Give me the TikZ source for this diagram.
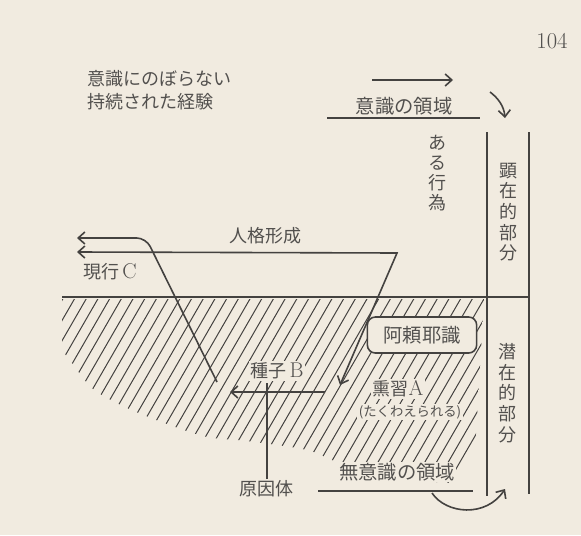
\documentclass[tikz,border=0pt]{standalone}
\usepackage{fontspec}
\newfontfamily\jp{Noto Sans CJK JP}
\newfontfamily\lat{Latin Modern Roman}
\usetikzlibrary{arrows.meta}
\definecolor{paper}{RGB}{241,235,224}
\definecolor{ink}{RGB}{68,66,64}
\definecolor{txt}{RGB}{82,80,78}
\tikzset{
  ln/.style={draw=ink, line width=1.2pt},
  hatchln/.style={draw=ink, line width=0.75pt},
  arr/.style={ln, -{Straight Barb[length=5pt,width=9pt]}},
  lbl/.style={text=txt, inner sep=1pt, font=\jp\fontsize{13.5}{16}\selectfont},
  flbl/.style={lbl, fill=paper},
  vlbl/.style={text=txt, inner sep=0pt, align=center, font=\jp\fontsize{13.5}{15.5}\selectfont},
}
\newcommand{\latl}[1]{{\lat\fontsize{16}{16}\selectfont #1}}
\begin{document}
\begin{tikzpicture}[x=0.75pt,y=-0.75pt]
\path[fill=paper] (0,0) rectangle (581,535);
\useasboundingbox (0,0) rectangle (581,535);

% page number
\node[text=txt, inner sep=0pt, font=\lat\fontsize{17}{20}\selectfont] (pg) at (552,41) {104};

% hatched region
\begin{scope}
\clip (62,299) -- (484,299) -- plot[smooth] coordinates {(473,484) (400,479) (340,463) (307,450) (247,441) (207,437) (167,424) (127,408) (93,389) (72,363) (62,350)} -- cycle;
\foreach \i in {-20,...,45} {
  \draw[hatchln] ({\i*11.7-100},520) -- ({\i*11.7-100+138.6},280);
}
\end{scope}

% top-left text
\node[lbl, anchor=west, align=left, font=\jp\fontsize{13.5}{17.5}\selectfont] (keiken) at (86,90) {意識にのぼらない\\持続された経験};

% conscious domain
\coordinate (ta1) at (372,80);
\coordinate (ta2) at (453,80);
\draw[arr] (ta1) -- (ta2);
\node[lbl, font=\jp\fontsize{14.5}{16}\selectfont] (ishiki) at (404,106) {意識の領域};
\coordinate (u1a) at (327,118);
\coordinate (u1b) at (480,118);
\draw[ln] (u1a) -- (u1b);
\coordinate (c1a) at (490,92);
\coordinate (c1b) at (505,118);
\draw[arr] (c1a) .. controls (498,98) and (504,106) .. (c1b);

% vertical lines and base line
\coordinate (vl1) at (487,132);
\coordinate (vl2) at (487,496);
\coordinate (vr1) at (529,132);
\coordinate (vr2) at (529,494);
\draw[ln] (vl1) -- (vl2);
\draw[ln] (vr1) -- (vr2);
\coordinate (b1) at (62,297);
\coordinate (b2) at (529,297);
\draw[ln] (b1) -- (b2);

\node[vlbl] (kenzai) at (508,212) {顕\\在\\的\\部\\分};
\node[vlbl] (senzai) at (507,393) {潜\\在\\的\\部\\分};
\node[vlbl, font=\jp\fontsize{13.5}{15}\selectfont] (koui) at (437,173) {あ\\る\\行\\為};

% personality formation
\node[lbl] (jinkaku) at (265,236) {人格形成};
\node[lbl] (genkou) at (110,272) {現行\,\latl{C}};

\coordinate (trL) at (77,252);
\coordinate (trT) at (397,253);
\coordinate (trB) at (340,385);
\draw[ln, {Straight Barb[length=5pt,width=9pt]}-{Straight Barb[length=5pt,width=9pt]}] (trL) -- (trT) -- (trB);

\coordinate (lsB) at (217,382);
\coordinate (lsK) at (146,238);
\coordinate (lsL) at (77,238);
\draw[arr, rounded corners=7pt] (lsB) -- (lsK) -- (lsL);

% alaya
\node[flbl, draw=ink, line width=1.2pt, rounded corners=6pt, minimum width=82pt, minimum height=27pt, font=\jp\fontsize{14.5}{16}\selectfont] (alaya) at (422,335) {阿頼耶識};
\node[flbl] (kunju) at (398,389) {熏習\latl{A}};
\node[flbl, font=\jp\fontsize{10}{12}\selectfont] (takuwae) at (410,412) {(たくわえられる)};

% seed
\node[flbl] (shuji) at (277,371) {種子\,\latl{B}};
\coordinate (sa1) at (325,392);
\coordinate (sa2) at (230,392);
\draw[arr] (sa1) -- (sa2);
\node[lbl] (genin) at (266,489) {原因体};
\coordinate (gtop) at (267,383);
\draw[ln] (genin.north -| gtop) -- (gtop);

% unconscious domain
\node[flbl, font=\jp\fontsize{14.5}{16}\selectfont] (muishiki) at (397,472) {無意識の領域};
\coordinate (u2a) at (318,491);
\coordinate (u2b) at (473,491);
\draw[ln] (u2a) -- (u2b);
\coordinate (c2a) at (432,493);
\coordinate (c2b) at (505,489);
\draw[arr] (c2a) .. controls (446,514) and (486,518) .. (c2b);
\end{tikzpicture}
\end{document}
